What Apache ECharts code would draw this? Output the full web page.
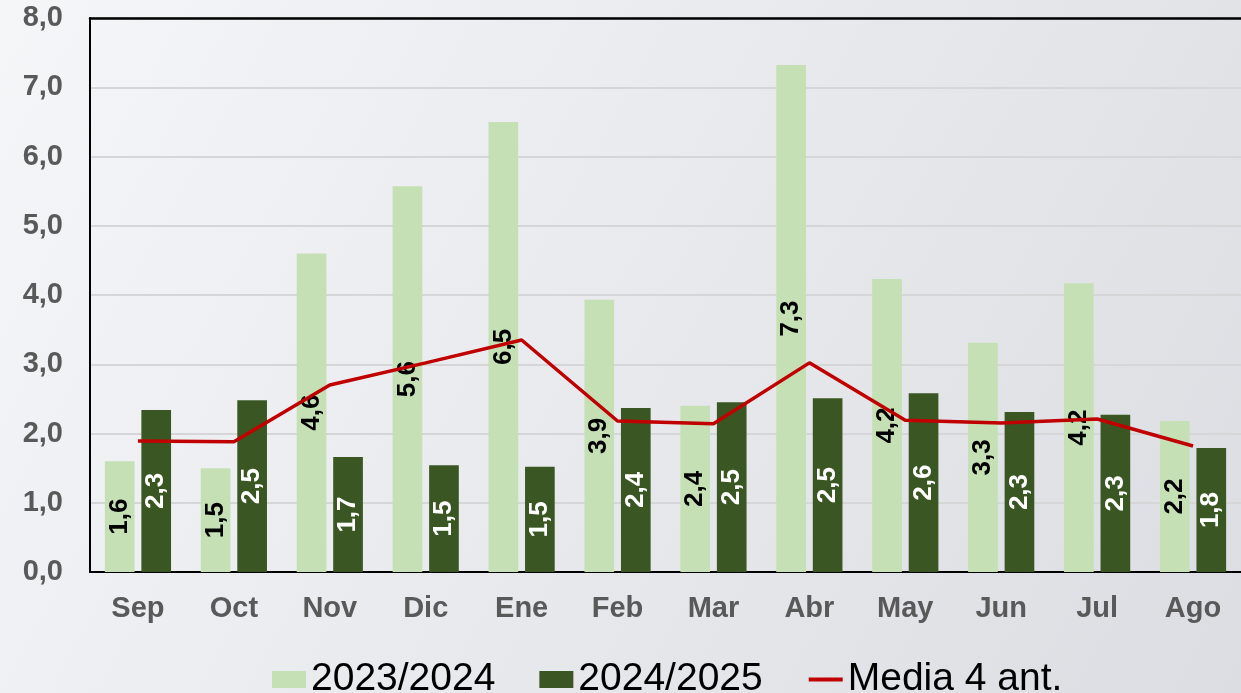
<!DOCTYPE html>
<html>
<head>
<meta charset="utf-8">
<script src="https://cdn.jsdelivr.net/npm/echarts@6/dist/echarts.min.js"></script>
<style>
    html, body {margin: 0; padding: 0;}
    #chart {width: 1241px; height: 693px;}
</style>
</head>
<body>
<div id="chart"></div>
<script>
// meses del año agrícola
const months = ['Sep', 'Oct', 'Nov', 'Dic', 'Ene', 'Feb', 'Mar', 'Abr', 'May', 'Jun', 'Jul', 'Ago'];
const season_2023 = [1.6, 1.5, 4.6, 5.57, 6.5, 3.93, 2.4, 7.32, 4.23, 3.31, 4.17, 2.18];
const season_2024 = [2.34, 2.48, 1.66, 1.54, 1.52, 2.37, 2.45, 2.51, 2.58, 2.31, 2.27, 1.79];
const media_4 = [1.89, 1.88, 2.7, 3.02, 3.35, 2.18, 2.14, 3.02, 2.19, 2.15, 2.21, 1.82];
const names = ['2023/2024', '2024/2025', 'Media 4 ant.'];

function to_comma(v) {
    return Number(v).toFixed(1).replace('.', ',');
}

function bar_label(color) {
    return {
        show: true,
        position: 'inside',
        rotate: 90,
        color: color,
        fontSize: 26,
        fontWeight: 'bold',
        fontFamily: 'Liberation Sans, Arial',
        formatter: function (p) {
            return to_comma(p.value);
        }
    };
}

function build_option() {
    const axis_font = {
        fontSize: 29, fontWeight: 'bold', color: '#595959',
        fontFamily: 'Liberation Sans, Arial'
    };
    return {
        animation: false,
        backgroundColor: new echarts.graphic.LinearGradient(0, 0, 1, 1, [
            {offset: 0, color: '#f5f6f8'},
            {offset: 1, color: '#dcdde2'}
        ]),
        grid: {left: 90, right: -17, top: 18, bottom: 121},
        legend: {
            left: 267, top: 655,
            itemWidth: 34, itemHeight: 17, itemGap: 44,
            textStyle: {fontSize: 39, color: '#000', fontFamily: 'Liberation Sans, Arial'},
            data: [
                {name: names[0], icon: 'rect'},
                {name: names[1], icon: 'rect'},
                {name: names[2], itemStyle: {opacity: 0}, lineStyle: {width: 4}}
            ]
        },
        xAxis: [
            {
                type: 'category',
                data: months,
                axisTick: {show: false},
                axisLine: {lineStyle: {color: '#000', width: 2}},
                axisLabel: Object.assign({margin: 22}, axis_font)
            },
            {
                // borde superior del área de trazado
                type: 'category',
                position: 'top',
                data: months,
                axisTick: {show: false},
                axisLabel: {show: false},
                axisLine: {lineStyle: {color: '#000', width: 2.5}}
            }
        ],
        yAxis: {
            type: 'value',
            min: 0, max: 8, interval: 1,
            axisLine: {show: true, lineStyle: {color: '#000', width: 2}},
            splitLine: {lineStyle: {color: '#d6d6d8', width: 2}},
            axisLabel: Object.assign({margin: 27, formatter: to_comma}, axis_font)
        },
        series: [
            {
                name: names[0], type: 'bar', data: season_2023,
                itemStyle: {color: '#c5e0b4'},
                barGap: '23%', barCategoryGap: '31%',
                label: bar_label('#000')
            },
            {
                name: names[1], type: 'bar', data: season_2024,
                itemStyle: {color: '#3a5723'},
                label: bar_label('#fff')
            },
            {
                name: names[2], type: 'line', data: media_4,
                symbol: 'none', z: 5,
                lineStyle: {color: '#c00000', width: 3.5},
                itemStyle: {color: '#c00000'}
            }
        ]
    };
}

let chart = echarts.init(document.getElementById('chart'), null, {renderer: 'canvas'});
chart.setOption(build_option());
</script>
</body>
</html>
